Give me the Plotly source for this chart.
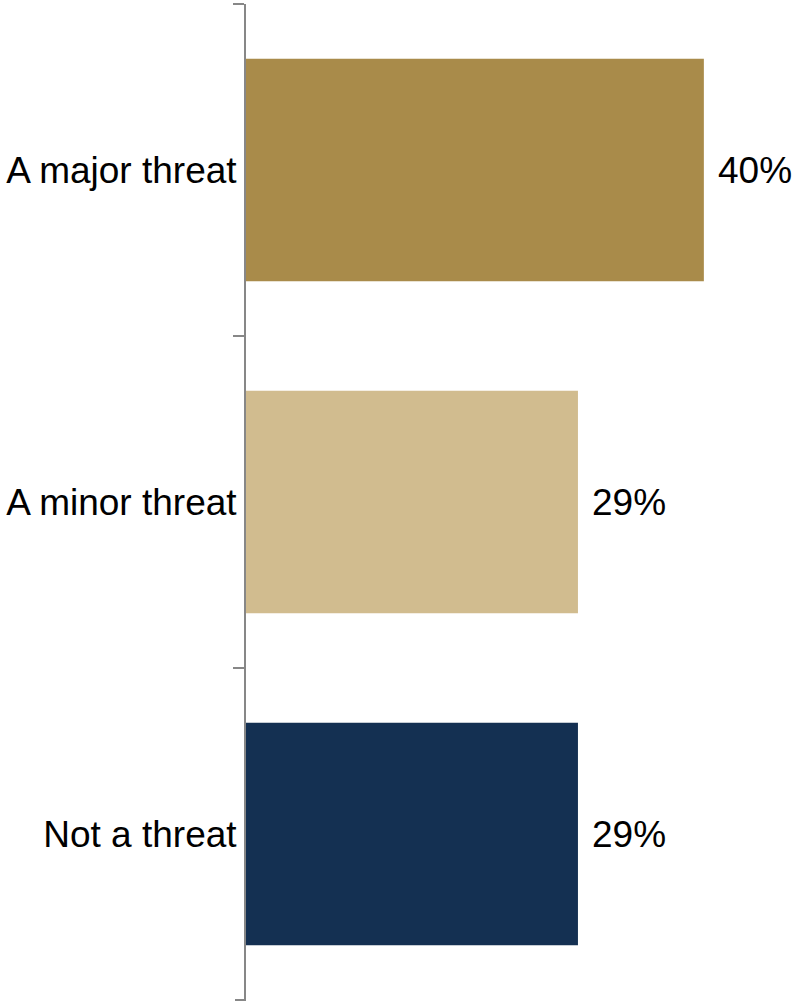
import plotly.graph_objects as go

# Данные
categories = ['A major threat', 'A minor threat', 'Not a threat']
values = [40, 29, 29]
colors = ['#A98B4A', '#D1BC8F', '#143052']
labels = [f'{v}%' for v in values]

trace = go.Bar(
    x=values,
    y=categories,
    orientation='h',
    marker=dict(color=colors, line=dict(width=0)),
    hoverinfo='skip',
)

# Подписи значений справа от столбцов
annotations = [
    dict(x=v, y=c, text=t, showarrow=False, xanchor='left', yanchor='middle',
         xshift=12, font=dict(size=37, color='#000000'))
    for v, c, t in zip(values, categories, labels)
]

# нижний штрих оси (plotly не рисует последний штрих на границе)
bottom_tick = dict(
    type='line', xref='paper', xsizemode='pixel', xanchor=0, x0=-11, x1=0,
    yref='y', y0=len(categories) - 0.5, y1=len(categories) - 0.5,
    line=dict(color='#878787', width=2),
)

layout = go.Layout(
    width=792,
    height=1004,
    margin=dict(l=246, r=0, t=4, b=3),
    paper_bgcolor='white',
    plot_bgcolor='white',
    font=dict(family='Liberation Sans, Arial, sans-serif', size=37, color='#000000'),
    bargap=0.33,
    showlegend=False,
    xaxis=dict(range=[0, 47.7], visible=False, fixedrange=True),
    yaxis=dict(
        type='category',
        autorange='reversed',
        showline=True,
        linecolor='#878787',
        linewidth=2,
        ticks='outside',
        tickson='boundaries',
        ticklen=11,
        tickwidth=2,
        tickcolor='#878787',
        showgrid=False,
        zeroline=False,
        tickfont=dict(size=37),
    ),
    annotations=annotations,
    shapes=[bottom_tick],
)

fig = go.Figure(data=[trace], layout=layout)
# убираем отступ body, чтобы график занимал всё окно
fig.write_html('out.html', config={'displayModeBar': False},
               post_script="document.body.style.margin='0';")
